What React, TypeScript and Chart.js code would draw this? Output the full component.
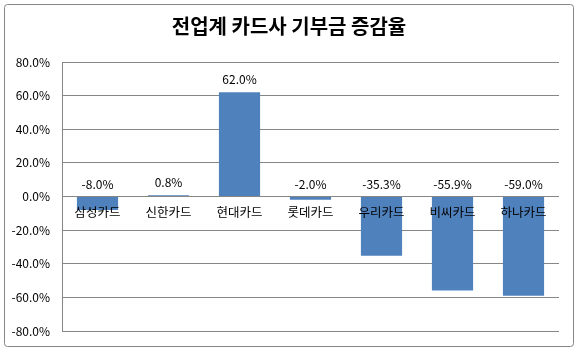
import React, { useEffect, useRef } from "react";
import { Chart, registerables } from "chart.js";

Chart.register(...registerables);

const TITLE = "전업계 카드사 기부금 증감율";
const categories = ["삼성카드", "신한카드", "현대카드", "롯데카드", "우리카드", "비씨카드", "하나카드"];
const values = [-8.0, 0.8, 62.0, -2.0, -35.3, -55.9, -59.0];
const yTicks = { min: -80, max: 80, step: 20 };

const FONT = "'Noto Sans CJK KR', 'Noto Sans', sans-serif";

const framePlugin = {
  id: "frame",
  beforeDraw(chart: any) {
    const ctx = chart.ctx;
    ctx.save();
    ctx.fillStyle = "#ffffff";
    ctx.fillRect(0, 0, chart.width, chart.height);
    ctx.strokeStyle = "#868686";
    ctx.lineWidth = 1;
    const x = 4.5, y = 4.5, w = 569, h = 342, r = 3;
    ctx.beginPath();
    ctx.moveTo(x + r, y);
    ctx.lineTo(x + w - r, y);
    ctx.arcTo(x + w, y, x + w, y + r, r);
    ctx.lineTo(x + w, y + h - r);
    ctx.arcTo(x + w, y + h, x + w - r, y + h, r);
    ctx.lineTo(x + r, y + h);
    ctx.arcTo(x, y + h, x, y + h - r, r);
    ctx.lineTo(x, y + r);
    ctx.arcTo(x, y, x + r, y, r);
    ctx.stroke();
    ctx.fillStyle = "#000000";
    ctx.font = `bold 20px ${FONT}`;
    ctx.textAlign = "center";
    ctx.textBaseline = "middle";
    ctx.fillText(TITLE, chart.width / 2, 26);
    ctx.restore();
  },
};

const labelPlugin = {
  id: "labels",
  afterDatasetsDraw(chart: any) {
    const ctx = chart.ctx;
    const yScale = chart.scales.y;
    const zeroY = yScale.getPixelForValue(0);
    const meta = chart.getDatasetMeta(0);
    ctx.save();
    ctx.fillStyle = "#000000";
    ctx.textAlign = "center";
    ctx.textBaseline = "middle";
    meta.data.forEach((bar: any, i: number) => {
      const v = values[i];
      const y = v >= 0 ? bar.y - 13 : zeroY - 12;
      ctx.font = `12px ${FONT}`;
      ctx.fillText(v.toFixed(1) + "%", bar.x, y);
      ctx.font = `12.5px ${FONT}`;
      ctx.fillText(categories[i], bar.x, zeroY + 16);
    });
    ctx.restore();
  },
};

export default function App() {
  const ref = useRef<HTMLCanvasElement>(null);
  useEffect(() => {
    if (!ref.current) return;
    const chart = new Chart(ref.current, {
      type: "bar",
      data: {
        labels: categories,
        datasets: [
          {
            data: values,
            backgroundColor: "#4F81BD",
            barPercentage: 0.58,
            categoryPercentage: 1.0,
          },
        ],
      },
      options: {
        responsive: false,
        animation: false,
        devicePixelRatio: 1,
        layout: { padding: { top: 62, right: 19, bottom: 23, left: 0 } },
        plugins: {
          legend: { display: false },
          tooltip: { enabled: false },
          title: { display: false },
        },
        scales: {
          x: { display: false },
          y: {
            min: yTicks.min,
            max: yTicks.max,
            afterFit(scale: any) {
              scale.width = 62;
            },
            ticks: {
              stepSize: yTicks.step,
              padding: 12,
              color: "#000000",
              font: { family: FONT, size: 12 },
              callback: (v: any) => Number(v).toFixed(1) + "%",
            },
            grid: { color: "#868686", drawTicks: false },
            border: { display: true, color: "#868686" },
          },
        },
      },
      plugins: [framePlugin, labelPlugin],
    });
    return () => chart.destroy();
  }, []);
  return (
    <div style={{ position: "absolute", left: 0, top: 0, width: 578, height: 354 }}>
      <canvas ref={ref} width={578} height={354} style={{ display: "block" }} />
    </div>
  );
}
